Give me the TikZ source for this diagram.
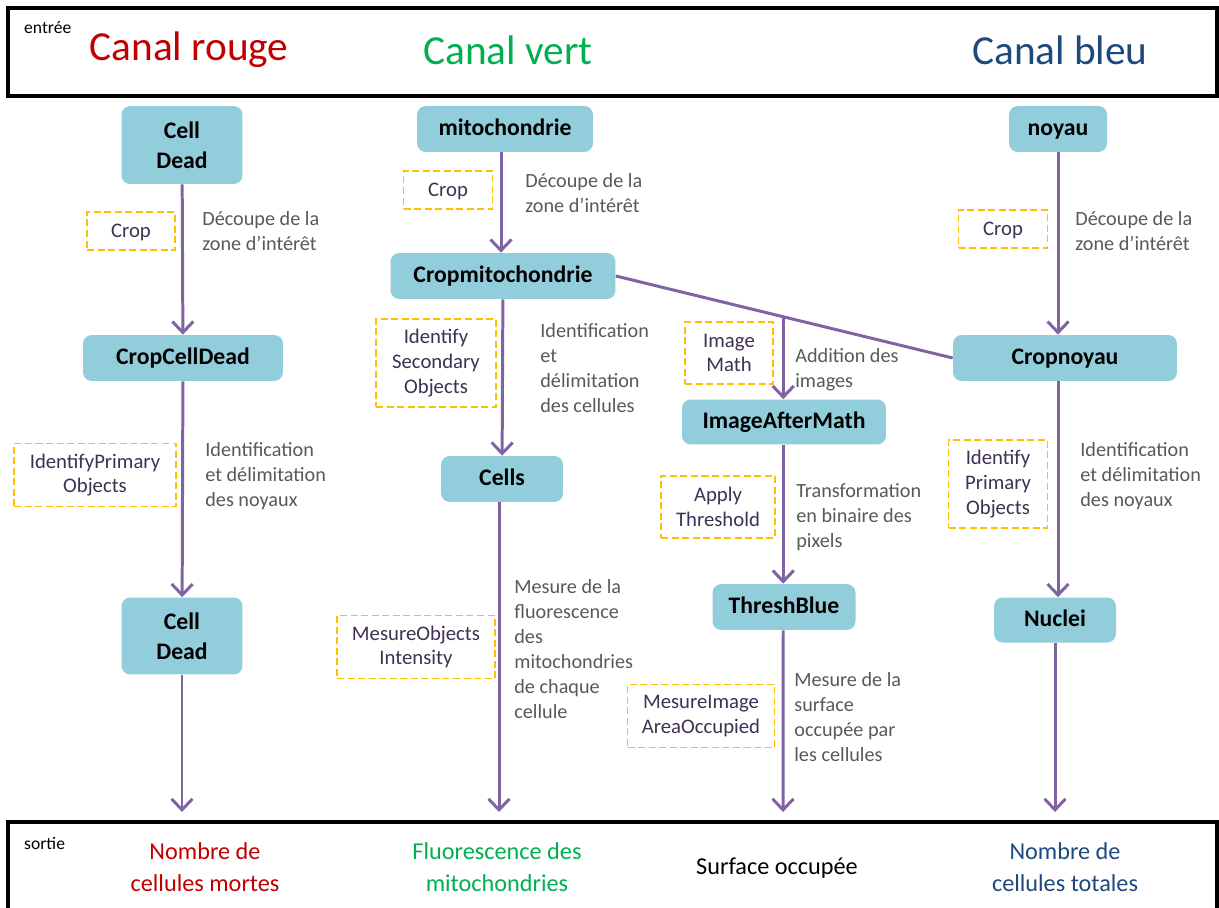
\documentclass[tikz,border=0pt]{standalone}
\usepackage{fontspec}
\setmainfont{Carlito}
\usetikzlibrary{arrows.meta,calc}
\definecolor{bleuboite}{HTML}{92CDDC}
\definecolor{violettrait}{HTML}{8064A2}
\definecolor{orangetir}{HTML}{FFC000}
\definecolor{gristexte}{HTML}{595959}
\definecolor{rougecanal}{HTML}{C00000}
\definecolor{vertcanal}{HTML}{00B050}
\definecolor{bleucanal}{HTML}{1F497D}
\definecolor{violetfonce}{HTML}{3F3151}
\tikzset{
  etape/.style={rounded corners=5pt, fill=bleuboite, align=center, inner sep=0pt,
    font=\bfseries\fontsize{13.5}{17}\selectfont},
  module/.style={draw=orangetir, dash pattern=on 4pt off 2pt, line width=1pt,
    text=violetfonce, align=center, inner sep=0pt, font=\fontsize{11.8}{14}\selectfont},
  uneligne/.style={text height=1.5ex, text depth=0pt},
  remarque/.style={text=gristexte, align=left, anchor=north west, inner sep=0pt,
    font=\fontsize{11.5}{14.2}\selectfont},
  fleche/.style={violettrait, line width=1.7pt, -{Straight Barb[length=2.2mm,width=4.2mm]}},
  cadre/.style={line width=1.8pt},
}
\begin{document}
\begin{tikzpicture}[x=0.02cm, y=-0.02cm]
\clip (0,0) rectangle (1219,908);
\fill[white] (0,0) rectangle (1219,908);
% entree / sortie
\draw[cadre] (8,8) rectangle (1217,96);
\draw[cadre] (8,930) -- (8,822) -- (1217,822) -- (1217,930);
\node[anchor=west, font=\fontsize{10}{12}\selectfont] (entree) at (18,28) {entrée};
\node[anchor=west, font=\fontsize{10}{12}\selectfont] (sortie) at (18,843) {sortie};
\node[text=rougecanal, font=\fontsize{23.5}{28}\selectfont] (canalrouge) at (189,50) {Canal rouge};
\node[text=vertcanal, font=\fontsize{23.5}{28}\selectfont] (canalvert) at (508,50) {Canal vert};
\node[text=bleucanal, font=\fontsize{23.5}{28}\selectfont] (canalbleu) at (1060,50) {Canal bleu};
\begin{scope}[font=\fontsize{13.8}{18.2}\selectfont, align=center]
  \node[text=rougecanal] (resrouge) at (205,867) {Nombre de\\cellules mortes};
  \node[text=vertcanal] (resvert) at (497,867) {Fluorescence des\\mitochondries};
  \node (ressurface) at (777,868) {Surface occupée};
  \node[text=bleucanal] (resbleu) at (1065,867) {Nombre de\\cellules totales};
\end{scope}
% etapes
\node[etape, minimum width=2.42cm, minimum height=1.56cm] (celldead) at (182,145) {Cell\\Dead};
\node[etape, uneligne, minimum width=4cm, minimum height=0.92cm] (cropcelldead) at (183,358) {CropCellDead};
\node[etape, minimum width=2.42cm, minimum height=1.54cm] (celldeadfin) at (182,636) {Cell\\Dead};
\node[etape, uneligne, minimum width=3.52cm, minimum height=0.92cm] (mito) at (505,129) {mitochondrie};
\node[etape, uneligne, minimum width=4.5cm, minimum height=0.92cm] (cropmito) at (503,276) {Cropmitochondrie};
\node[etape, uneligne, minimum width=2.44cm, minimum height=0.92cm] (cells) at (502,479) {Cells};
\node[etape, uneligne, minimum width=4.08cm, minimum height=0.9cm] (imageaftermath) at (784,422) {ImageAfterMath};
\node[etape, uneligne, minimum width=2.86cm, minimum height=0.92cm] (threshblue) at (784,607) {ThreshBlue};
\node[etape, uneligne, minimum width=1.96cm, minimum height=0.92cm] (noyau) at (1058,129) {noyau};
\node[etape, uneligne, minimum width=4.48cm, minimum height=0.92cm] (cropnoyau) at (1065,358) {Cropnoyau};
\node[etape, uneligne, minimum width=2.44cm, minimum height=0.9cm] (nuclei) at (1055,620) {Nuclei};
% modules
\node[module, uneligne, minimum width=1.76cm, minimum height=0.76cm] (croprouge) at (131,231) {Crop};
\node[module, minimum width=3.24cm, minimum height=1.26cm] (idprimrouge) at (95,475) {IdentifyPrimary\\Objects};
\node[module, uneligne, minimum width=1.78cm, minimum height=0.76cm] (cropvert) at (448,190) {Crop};
\node[module, minimum width=2.4cm, minimum height=1.76cm] (idsecvert) at (436,363) {Identify\\Secondary\\Objects};
\node[module, minimum width=3.16cm, minimum height=1.26cm] (mesobjvert) at (416,647) {MesureObjects\\Intensity};
\node[module, minimum width=1.76cm, minimum height=1.24cm] (imgmath) at (729,353) {Image\\Math};
\node[module, minimum width=2.28cm, minimum height=1.24cm] (applythr) at (718,507) {Apply\\Threshold};
\node[module, minimum width=2.94cm, minimum height=1.26cm] (mesarea) at (701,716) {MesureImage\\AreaOccupied};
\node[module, uneligne, minimum width=1.78cm, minimum height=0.76cm] (cropbleu) at (1003,229) {Crop};
\node[module, minimum width=1.98cm, minimum height=1.76cm] (idprimbleu) at (998,484) {Identify\\Primary\\Objects};
% remarques
\node[remarque] (decrouge) at (202,211) {Découpe de la\\zone d’intérêt};
\node[remarque] (identrouge) at (205,442) {Identification\\et délimitation\\des noyaux};
\node[remarque] (decvert) at (525,173) {Découpe de la\\zone d’intérêt};
\node[remarque] (identvert) at (540,323) {Identification\\et\\délimitation\\des cellules};
\node[remarque] (mesvert) at (514,579) {Mesure de la\\fluorescence\\des\\mitochondries\\de chaque\\cellule};
\node[remarque] (addition) at (795,348) {Addition des\\images};
\node[remarque] (transfo) at (796,483) {Transformation\\en binaire des\\pixels};
\node[remarque] (messurf) at (794,672) {Mesure de la\\surface\\occupée par\\les cellules};
\node[remarque] (decbleu) at (1075,211) {Découpe de la\\zone d’intérêt};
\node[remarque] (identbleu) at (1080,442) {Identification\\et délimitation\\des noyaux};
% fleches
\coordinate (finrouge) at (182,812);
\coordinate (finvert) at (499,812);
\coordinate (finsurface) at (783,812);
\coordinate (finbleu) at (1055,812);
\coordinate (branche) at ($(cropmito.east)!0.497!(cropnoyau.west)$);
\draw[violettrait, line width=1.7pt] (cropmito.east) -- (cropnoyau.west);
\draw[fleche] (celldead) -- (cropcelldead);
\draw[fleche] (cropcelldead) -- (celldeadfin);
\draw[fleche] (celldeadfin) -- (finrouge);
\draw[fleche] (mito.south -| cropmito.south) ++(-2,0) -- ($(cropmito.north)+(-2,0)$);
\draw[fleche] (cropmito) -- (cells);
\draw[fleche] (cells.south -| finvert) -- (finvert);
\draw[fleche] (branche) -- (branche |- imageaftermath.north);
\draw[fleche] (imageaftermath.south -| branche) -- (branche |- threshblue.north);
\draw[fleche] (threshblue.south -| branche) -- (finsurface);
\draw[fleche] (noyau) -- (noyau |- cropnoyau.north);
\draw[fleche] (cropnoyau.south -| noyau) -- (noyau |- nuclei.north);
\draw[fleche] (nuclei) -- (finbleu);
\end{tikzpicture}
\end{document}
